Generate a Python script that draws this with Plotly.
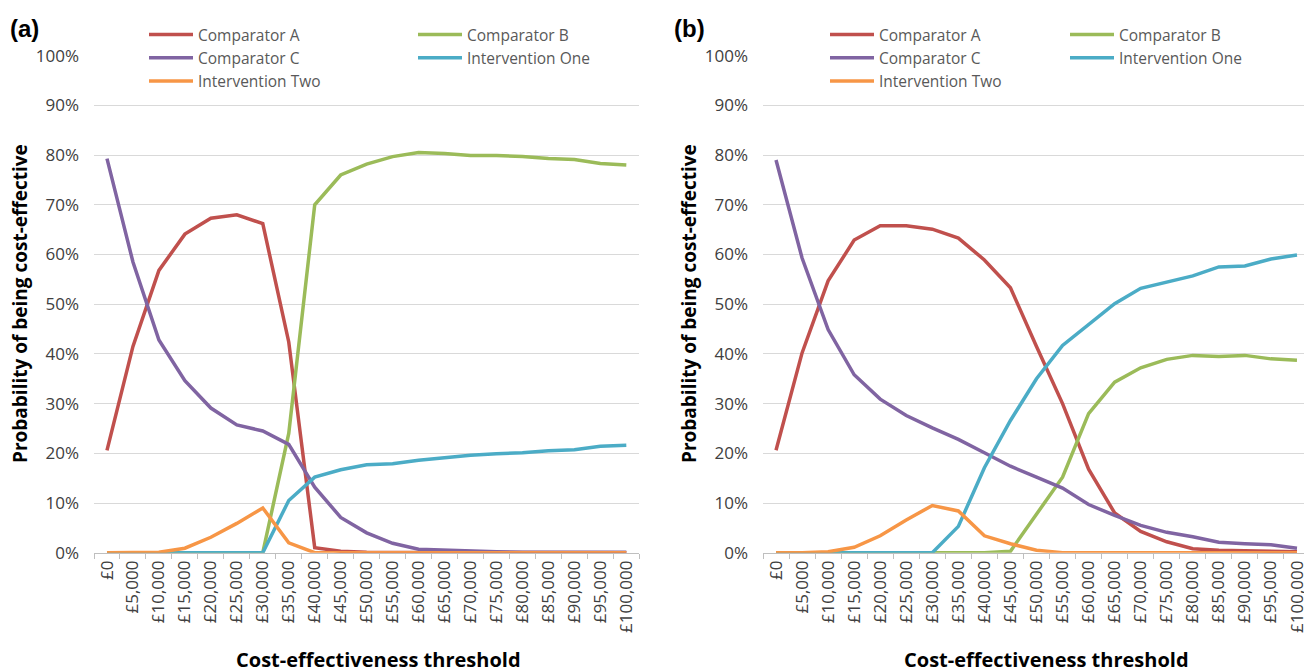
import plotly.graph_objects as go

thresholds = ["£0", "£5,000", "£10,000", "£15,000", "£20,000", "£25,000", "£30,000",
              "£35,000", "£40,000", "£45,000", "£50,000", "£55,000", "£60,000", "£65,000",
              "£70,000", "£75,000", "£80,000", "£85,000", "£90,000", "£95,000", "£100,000"]

series_names = ["Comparator A", "Comparator B", "Comparator C", "Intervention One", "Intervention Two"]
series_colors = ["#C0504D", "#9BBB59", "#8064A2", "#4BACC6", "#F79646"]

# Panel (a) values, % probability of being cost-effective
comp_a_a = [20.6, 41.5, 56.8, 64.1, 67.3, 68.0, 66.2, 42.4, 1.0, 0.3, 0.1, 0.1, 0.1, 0.1, 0.1, 0, 0, 0, 0, 0, 0]
comp_b_a = [0, 0, 0, 0, 0, 0, 0, 24.0, 70.0, 76.0, 78.2, 79.7, 80.5, 80.3, 79.9, 79.9, 79.7, 79.3, 79.1, 78.3, 78.0]
comp_c_a = [79.3, 58.5, 42.8, 34.6, 29.1, 25.7, 24.5, 21.8, 13.2, 7.1, 4.0, 1.9, 0.7, 0.5, 0.3, 0.2, 0.1, 0.1, 0.1, 0.1, 0.1]
int_1_a = [0, 0, 0, 0, 0, 0, 0, 10.5, 15.2, 16.7, 17.7, 17.9, 18.6, 19.1, 19.6, 19.9, 20.1, 20.5, 20.7, 21.4, 21.6]
int_2_a = [0, 0, 0.1, 0.9, 3.1, 5.9, 9.0, 2.0, 0, 0, 0, 0, 0, 0, 0, 0, 0, 0, 0, 0, 0]

# Panel (b) values
comp_a_b = [20.6, 40.2, 54.7, 62.9, 65.8, 65.8, 65.1, 63.3, 58.9, 53.3, 41.5, 30.0, 16.8, 8.0, 4.3, 2.2, 0.8, 0.5, 0.4, 0.3, 0.2]
comp_b_b = [0, 0, 0, 0, 0, 0, 0, 0, 0, 0.3, 7.6, 15.2, 28.0, 34.3, 37.2, 38.9, 39.7, 39.5, 39.7, 39.0, 38.7]
comp_c_b = [79.0, 59.3, 44.9, 35.8, 30.9, 27.6, 25.1, 22.8, 20.1, 17.4, 15.2, 13.0, 9.7, 7.5, 5.5, 4.1, 3.2, 2.1, 1.8, 1.6, 0.9]
int_1_b = [0, 0, 0, 0, 0, 0, 0, 5.3, 17.1, 26.6, 35.0, 41.7, 45.9, 50.1, 53.2, 54.5, 55.7, 57.5, 57.7, 59.1, 59.9]
int_2_b = [0, 0, 0.2, 1.1, 3.4, 6.6, 9.5, 8.4, 3.4, 1.8, 0.5, 0, 0, 0, 0, 0, 0, 0, 0, 0, 0]

y_ticks = [0, 10, 20, 30, 40, 50, 60, 70, 80, 90, 100]
y_tick_labels = ["0%", "10%", "20%", "30%", "40%", "50%", "60%", "70%", "80%", "90%", "100%"]

panel_a = [comp_a_a, comp_b_a, comp_c_a, int_1_a, int_2_a]
panel_b = [comp_a_b, comp_b_b, comp_c_b, int_1_b, int_2_b]

# page has an 8px body margin, so the figure is laid out in page pixels minus 8
OFF = 8
W, H = 1312 - OFF, 672 - OFF
def px(x):
    return (x - OFF) / W
def py(y):
    return 1 - (y - OFF) / H

fig = go.Figure()

legend_a = ["legend", "legend2", "legend", "legend2", "legend"]
legend_b = ["legend3", "legend4", "legend3", "legend4", "legend3"]

for i, name in enumerate(series_names):
    fig.add_trace(go.Scatter(x=thresholds, y=panel_a[i], name=name, mode="lines",
                             line=dict(color=series_colors[i], width=3.5),
                             xaxis="x", yaxis="y", legend=legend_a[i], cliponaxis=False,
                             hoverinfo="x+y+name"))
for i, name in enumerate(series_names):
    fig.add_trace(go.Scatter(x=thresholds, y=panel_b[i], name=name, mode="lines",
                             line=dict(color=series_colors[i], width=3.5),
                             xaxis="x2", yaxis="y2", legend=legend_b[i], cliponaxis=False,
                             hoverinfo="x+y+name"))

tick_font = dict(family="Open Sans", size=17, color="#404040")
xcommon = dict(type="category", categoryorder="array", categoryarray=thresholds,
               range=[-0.5, 20.5], tickangle=-90, tickfont=tick_font,
               ticks="outside", tickson="boundaries", ticklen=5, tickcolor="#bfbfbf",
               showline=True, linecolor="#bfbfbf", linewidth=1, showgrid=False,
               zeroline=False, fixedrange=True, automargin=False)
ycommon = dict(range=[0, 100], tickvals=y_ticks, ticktext=y_tick_labels, tickfont=tick_font,
               showgrid=True, gridcolor="#d9d9d9", gridwidth=1, zeroline=False,
               showline=False, ticks="", ticklabelstandoff=14, fixedrange=True,
               automargin=False)

ybot, ytop = py(552.7), py(55.7)
fig.update_layout(
    template="none",
    width=W, height=H, autosize=False,
    margin=dict(l=0, r=0, t=0, b=0, pad=0),
    paper_bgcolor="white", plot_bgcolor="white",
    font=dict(family="Open Sans", color="#404040"),
    xaxis=dict(domain=[px(94), px(639.3)], anchor="y", **xcommon),
    yaxis=dict(domain=[ybot, ytop], anchor="x", **ycommon),
    xaxis2=dict(domain=[px(763), px(1310)], anchor="y2", **xcommon),
    yaxis2=dict(domain=[ybot, ytop], anchor="x2", **ycommon),
)

leg_common = dict(orientation="v", bgcolor="rgba(0,0,0,0)", borderwidth=0,
                  font=dict(family="Open Sans", size=15.5, color="#595959"),
                  xanchor="left", yanchor="top", itemwidth=44, itemclick=False, itemdoubleclick=False)
leg_top = py(18)
fig.update_layout(
    legend=dict(x=px(144), y=leg_top, **leg_common),
    legend2=dict(x=px(413), y=leg_top, **leg_common),
    legend3=dict(x=px(825), y=leg_top, **leg_common),
    legend4=dict(x=px(1065), y=leg_top, **leg_common),
)

ytitle_font = dict(family="Open Sans", size=19, color="#000000")
xtitle_font = dict(family="Open Sans", size=20, color="#000000")
annotations = [
    dict(text="<b>(a)</b>", x=px(8), y=py(28), xanchor="left", yanchor="middle",
         font=dict(family="Liberation Sans", size=24, color="#000000")),
    dict(text="<b>(b)</b>", x=px(672), y=py(28), xanchor="left", yanchor="middle",
         font=dict(family="Liberation Sans", size=24, color="#000000")),
    dict(text="<b>Probability of being cost-effective</b>", x=px(20), y=py(304),
         textangle=-90, xanchor="center", yanchor="middle", font=ytitle_font),
    dict(text="<b>Probability of being cost-effective</b>", x=px(689), y=py(304),
         textangle=-90, xanchor="center", yanchor="middle", font=ytitle_font),
    dict(text="<b>Cost-effectiveness threshold</b>", x=px(378), y=py(659),
         xanchor="center", yanchor="middle", font=xtitle_font),
    dict(text="<b>Cost-effectiveness threshold</b>", x=px(1046), y=py(659),
         xanchor="center", yanchor="middle", font=xtitle_font),
]
for a in annotations:
    a.update(xref="paper", yref="paper", showarrow=False)
fig.update_layout(annotations=annotations)

fig.write_html("out.html", config={"displayModeBar": False})
